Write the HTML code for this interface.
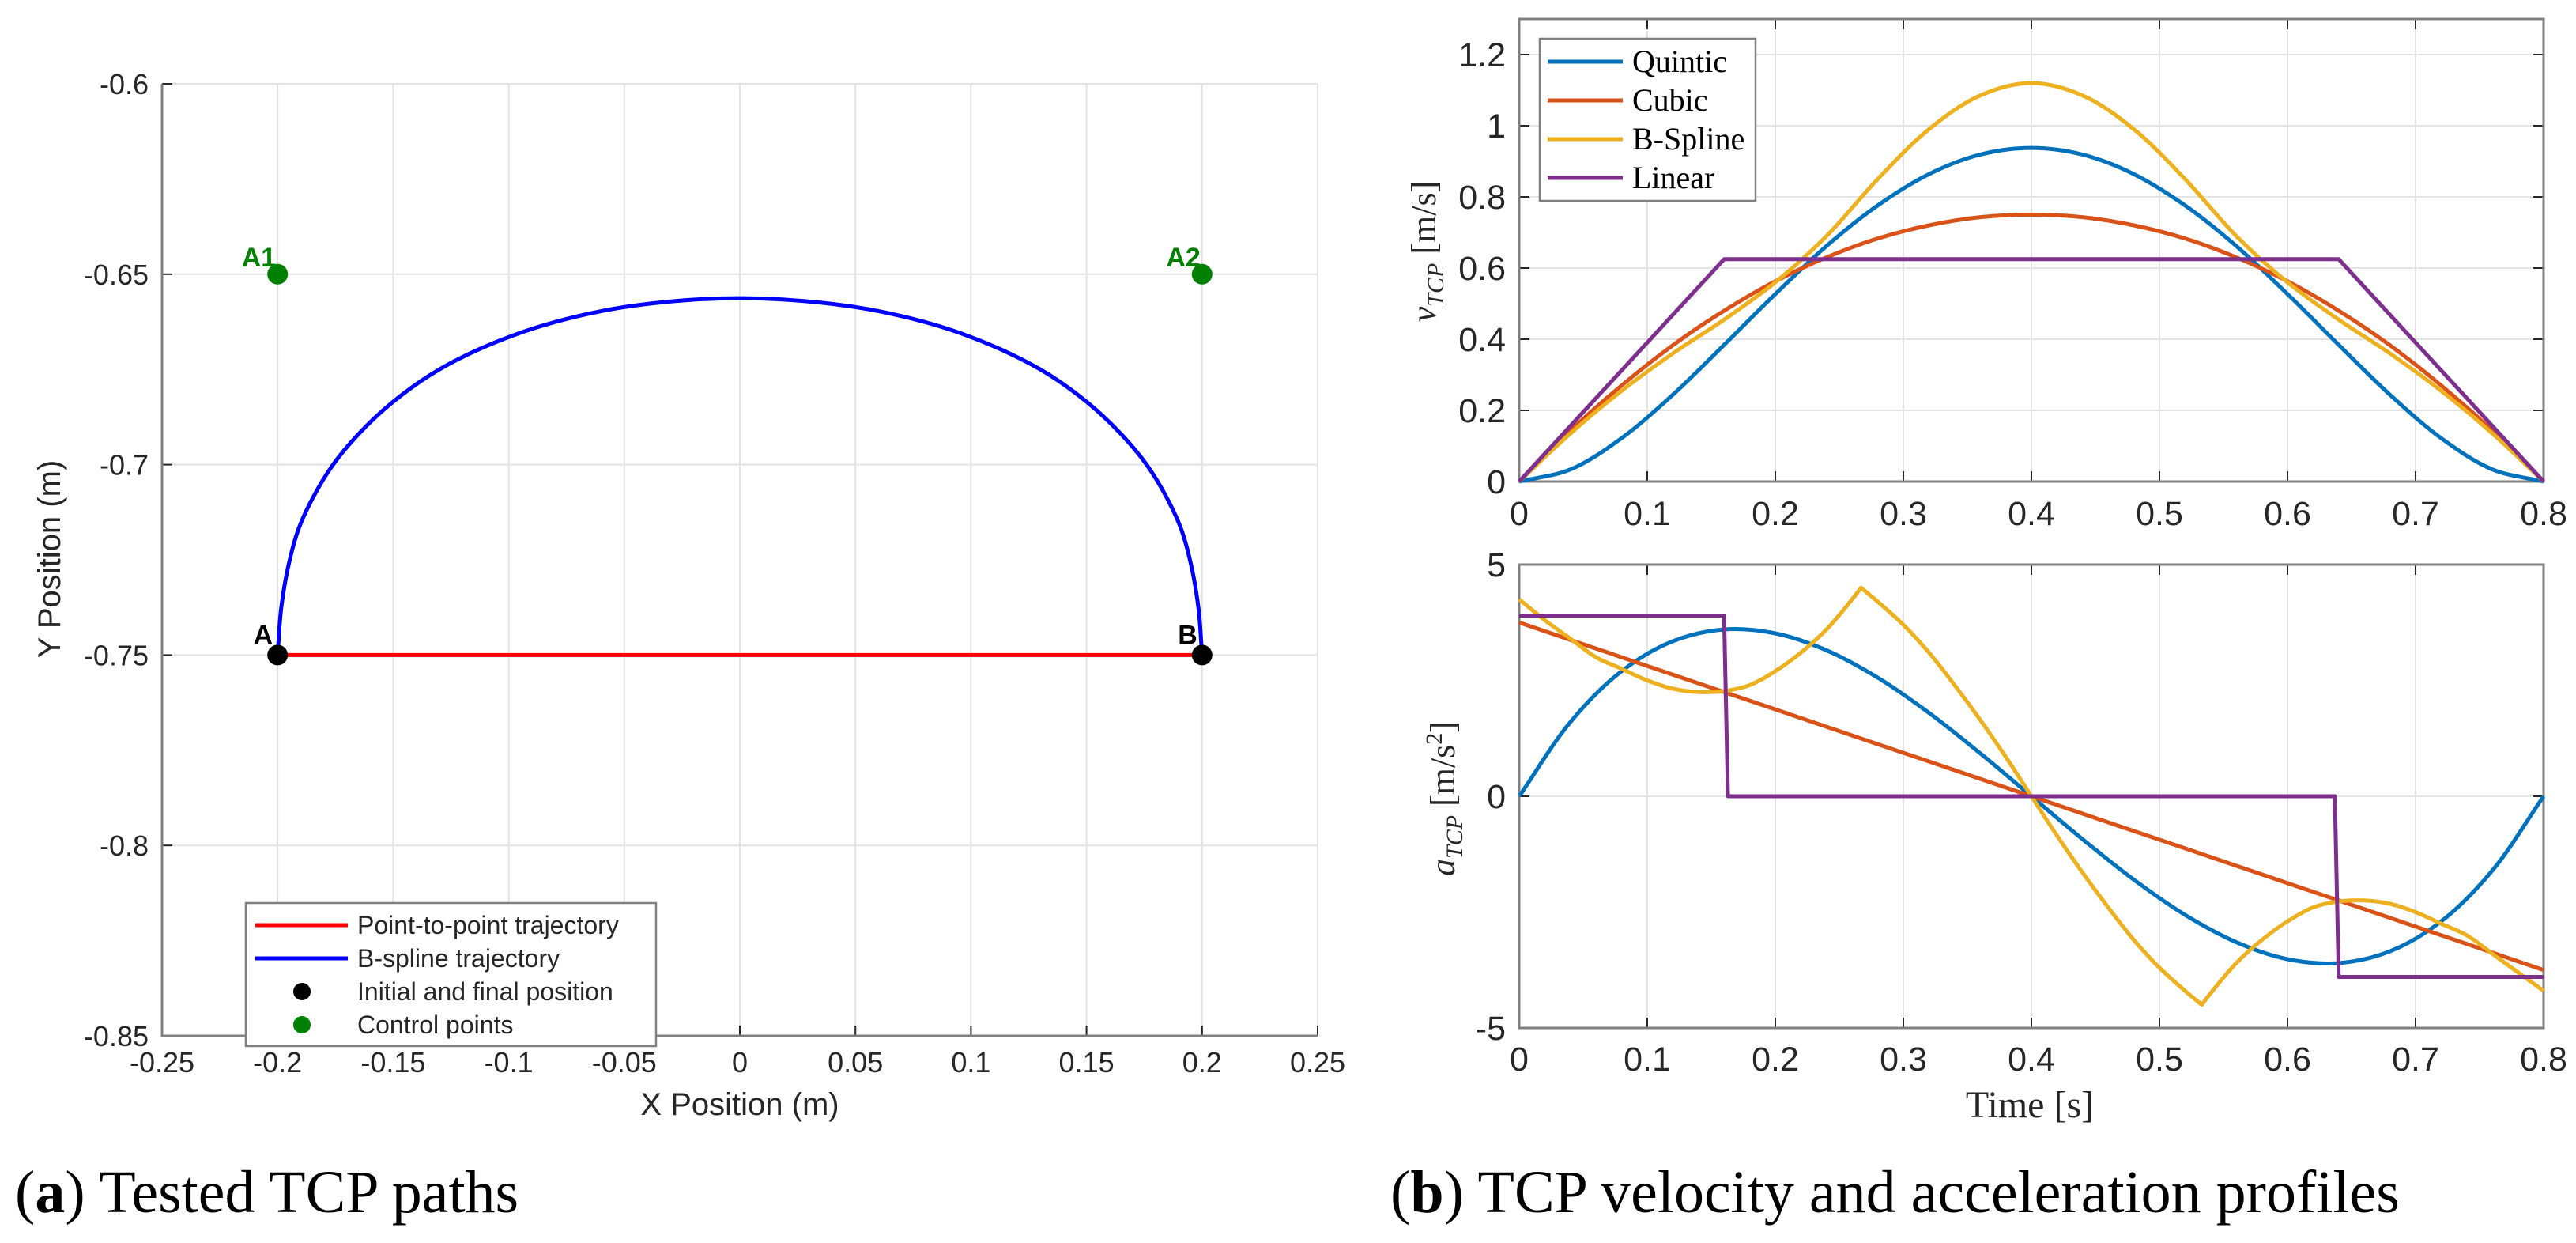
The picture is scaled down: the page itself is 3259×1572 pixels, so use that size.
<!DOCTYPE html>
<html><head><meta charset="utf-8"><style>
html,body{margin:0;padding:0;background:#fff;}
svg{display:block;}
</style></head><body>
<svg id="fig" xmlns="http://www.w3.org/2000/svg" width="3259" height="1572" viewBox="0 0 3259 1572"></svg>
<script>
// ---- Left chart data ----
const pathX = [-0.2,-0.1985,-0.1955,-0.191,-0.185,-0.176,-0.165,-0.15,-0.13,-0.1,-0.07,-0.04,0,0.04,0.07,0.1,0.13,0.15,0.165,0.176,0.185,0.191,0.1955,0.1985,0.2];
const pathY = [-0.75,-0.738,-0.727,-0.717,-0.709,-0.7,-0.692,-0.6835,-0.675,-0.6665,-0.661,-0.6578,-0.6563,-0.6578,-0.661,-0.6665,-0.675,-0.6835,-0.692,-0.7,-0.709,-0.717,-0.727,-0.738,-0.75];
const p2pX = [-0.2,0.2];
const p2pY = [-0.75,-0.75];
const endPtsX = [-0.2,0.2];
const endPtsY = [-0.75,-0.75];
const endLabels = ['A','B'];
const ctrlX = [-0.2,0.2];
const ctrlY = [-0.65,-0.65];
const ctrlLabels = ['A1','A2'];
const leftXTicks = [-0.25,-0.2,-0.15,-0.1,-0.05,0,0.05,0.1,0.15,0.2,0.25];
const leftXTickLabels = ['-0.25','-0.2','-0.15','-0.1','-0.05','0','0.05','0.1','0.15','0.2','0.25'];
const leftYTicks = [-0.6,-0.65,-0.7,-0.75,-0.8,-0.85];
const leftYTickLabels = ['-0.6','-0.65','-0.7','-0.75','-0.8','-0.85'];
// ---- Right charts data ----
const timeGrid = [0,0.04,0.08,0.12,0.16,0.2,0.24,0.28,0.32,0.36,0.4,0.44,0.48,0.52,0.56,0.6,0.64,0.68,0.72,0.76,0.8];
const velQuintic = [0,0.034,0.122,0.244,0.384,0.527,0.662,0.776,0.864,0.919,0.9375,0.919,0.864,0.776,0.662,0.527,0.384,0.244,0.122,0.034,0];
const velCubic = [0,0.143,0.27,0.383,0.48,0.563,0.63,0.683,0.72,0.743,0.75,0.743,0.72,0.683,0.63,0.563,0.48,0.383,0.27,0.143,0];
const velBspline = [0,0.135,0.255,0.36,0.455,0.56,0.69,0.85,0.99,1.085,1.12,1.085,0.99,0.85,0.69,0.56,0.455,0.36,0.255,0.135,0];
const velLinT = [0,0.16,0.64,0.8];
const velLinear = [0,0.625,0.625,0];
const accQuintic = [0,1.603,2.7,3.347,3.6,3.516,3.15,2.559,1.8,0.928,0,-0.928,-1.8,-2.559,-3.15,-3.516,-3.6,-3.347,-2.7,-1.603,0];
const accCubic = [3.75,3.375,3.0,2.625,2.25,1.875,1.5,1.125,0.75,0.375,0,-0.375,-0.75,-1.125,-1.5,-1.875,-2.25,-2.625,-3.0,-3.375,-3.75];
const accBsT = [0,0.02,0.04,0.06,0.08,0.1,0.12,0.14,0.16,0.18,0.2,0.22,0.24,0.26,0.267,0.28,0.3,0.32,0.34,0.36,0.38,0.4,0.42,0.44,0.46,0.48,0.5,0.52,0.533,0.54,0.56,0.58,0.6,0.62,0.64,0.66,0.68,0.7,0.72,0.74,0.76,0.78,0.8];
const accBspline = [4.25,3.8,3.4,3.0,2.75,2.5,2.32,2.25,2.27,2.4,2.7,3.1,3.6,4.25,4.5,4.2,3.7,3.1,2.4,1.65,0.85,0,-0.85,-1.65,-2.4,-3.1,-3.7,-4.2,-4.5,-4.25,-3.6,-3.1,-2.7,-2.4,-2.27,-2.25,-2.32,-2.5,-2.75,-3.0,-3.4,-3.8,-4.2];
const accBsCusps = [0.267,0.533];
const accLinT = [0,0.16,0.163,0.637,0.64,0.8];
const accLinear = [3.9,3.9,0,0,-3.9,-3.9];
const timeTicks = [0,0.1,0.2,0.3,0.4,0.5,0.6,0.7,0.8];
const timeTickLabels = ['0','0.1','0.2','0.3','0.4','0.5','0.6','0.7','0.8'];
const velTicks = [0,0.2,0.4,0.6,0.8,1,1.2];
const velTickLabels = ['0','0.2','0.4','0.6','0.8','1','1.2'];
const accTicks = [-5,0,5];
const accTickLabels = ['-5','0','5'];
const seriesNames = ['Quintic','Cubic','B-Spline','Linear'];
const seriesColors = ['#0072BD','#D95319','#EDB120','#7E2F8E'];

const NS='http://www.w3.org/2000/svg';
const svg=document.getElementById('fig');
function mk(tag,attrs,parent,text){const e=document.createElementNS(NS,tag);for(const k in attrs)e.setAttribute(k,attrs[k]);if(text!==undefined)e.textContent=text;(parent||svg).appendChild(e);return e;}
function lin(d0,d1,r0,r1){return v=>r0+(v-d0)/(d1-d0)*(r1-r0);}
// centripetal Catmull-Rom -> cubic Bezier
function smoothPath(px,py,noMove){
  const n=px.length;const P=i=>{if(i<0)return [2*px[0]-px[1],2*py[0]-py[1]];if(i>=n)return [2*px[n-1]-px[n-2],2*py[n-1]-py[n-2]];return [px[i],py[i]];};
  const dist=(a,b)=>Math.max(Math.sqrt(Math.hypot(a[0]-b[0],a[1]-b[1])),1e-4);
  let d=(noMove?'L':'M')+px[0].toFixed(1)+','+py[0].toFixed(1);
  for(let i=0;i<n-1;i++){
    const p0=P(i-1),p1=P(i),p2=P(i+1),p3=P(i+2);
    const d1=dist(p0,p1),d2=dist(p1,p2),d3=dist(p2,p3);
    const b1=[0,1].map(k=>(d1*d1*p2[k]-d2*d2*p0[k]+(2*d1*d1+3*d1*d2+d2*d2)*p1[k])/(3*d1*(d1+d2)));
    const b2=[0,1].map(k=>(d3*d3*p1[k]-d2*d2*p3[k]+(2*d3*d3+3*d3*d2+d2*d2)*p2[k])/(3*d3*(d3+d2)));
    d+=' C'+b1[0].toFixed(1)+','+b1[1].toFixed(1)+' '+b2[0].toFixed(1)+','+b2[1].toFixed(1)+' '+p2[0].toFixed(1)+','+p2[1].toFixed(1);
  }
  return d;
}
function polyPath(px,py){return px.map((x,i)=>(i?'L':'M')+x.toFixed(1)+','+py[i].toFixed(1)).join(' ');}
const SANS='"Liberation Sans", Arial, sans-serif', SERIF='"Liberation Serif", "Times New Roman", serif';

// ===== Left chart =====
const lx=lin(-0.25,0.25,205,1667), ly=lin(-0.6,-0.85,106,1310);
const gL=mk('g',{});


leftXTicks.forEach((t,i)=>{
  const g=mk('line',{x1:lx(t),x2:lx(t),y1:106,y2:1310,stroke:'#e3e3e3','stroke-width':2},gL);
  
  const tk=mk('line',{x1:lx(t),x2:lx(t),y1:1310,y2:1297,stroke:'#262626','stroke-width':2},gL);
  
  const lb=mk('text',{x:lx(t),y:1356,'font-family':SANS,'font-size':36,fill:'#262626','text-anchor':'middle'},gL,leftXTickLabels[i]);
  
});
leftYTicks.forEach((t,i)=>{
  const g=mk('line',{x1:205,x2:1667,y1:ly(t),y2:ly(t),stroke:'#e3e3e3','stroke-width':2},gL);
  
  const tk=mk('line',{x1:205,x2:218,y1:ly(t),y2:ly(t),stroke:'#262626','stroke-width':2},gL);
  
  const lb=mk('text',{x:188,y:ly(t)+13,'font-family':SANS,'font-size':36,fill:'#262626','text-anchor':'end'},gL,leftYTickLabels[i]);
  
});
let ax=mk('path',{d:'M205,106 L205,1310 L1667,1310',fill:'none',stroke:'#808080','stroke-width':3},gL);

let e=mk('path',{d:polyPath(p2pX.map(lx),p2pY.map(ly)),fill:'none',stroke:'#ff0000','stroke-width':5},gL);

e=mk('path',{d:smoothPath(pathX.map(lx),pathY.map(ly)),fill:'none',stroke:'#0000ff','stroke-width':5},gL);

endPtsX.forEach((x,i)=>{
  const c=mk('circle',{cx:lx(x),cy:ly(endPtsY[i]),r:13,fill:'#000'},gL);
  
  const t=mk('text',{x:lx(x)-6,y:ly(endPtsY[i])-14,'font-family':SANS,'font-size':34,'font-weight':'bold',fill:'#000','text-anchor':'end'},gL,endLabels[i]);
  
});
ctrlX.forEach((x,i)=>{
  const c=mk('circle',{cx:lx(x),cy:ly(ctrlY[i]),r:13,fill:'#008000'},gL);
  
  const t=mk('text',{x:lx(x)-2,y:ly(ctrlY[i])-10,'font-family':SANS,'font-size':34,'font-weight':'bold',fill:'#008000','text-anchor':'end'},gL,ctrlLabels[i]);
  
});
e=mk('text',{x:936,y:1410,'font-family':SANS,'font-size':40,fill:'#262626','text-anchor':'middle'},gL,'X Position (m)');

e=mk('text',{x:0,y:0,'font-family':SANS,'font-size':40,fill:'#262626','text-anchor':'middle',transform:'translate(76,707) rotate(-90)'},gL,'Y Position (m)');

// left legend
const lg=mk('g',{},gL);

mk('rect',{x:311,y:1142,width:519,height:181,fill:'#fff',stroke:'#808080','stroke-width':2.5},lg);
const lgItems=[['line','#ff0000','Point-to-point trajectory'],['line','#0000ff','B-spline trajectory'],['dot','#000','Initial and final position'],['dot','#008000','Control points']];
lgItems.forEach((it,i)=>{
  const y=1170+i*42;
  const g=mk('g',{},lg);
  
  if(it[0]==='line')mk('line',{x1:323,x2:440,y1:y,y2:y,stroke:it[1],'stroke-width':5},g);
  else mk('circle',{cx:382,cy:y,r:11,fill:it[1]},g);
  mk('text',{x:452,y:y+11,'font-family':SANS,'font-size':32,fill:'#262626'},g,it[2]);
});
e=mk('text',{x:19,y:1533,'font-family':SERIF,'font-size':76,fill:'#000'},gL);

e.innerHTML='(<tspan font-weight="bold">a</tspan>) Tested TCP paths';

// ===== Right charts =====
const tx=lin(0,0.8,1922,3218);
function panel(name,y0,y1,d0,d1,ticks,labels,xLabY){
  const g=mk('g',{});
  
  const sy=lin(d0,d1,y1,y0);
  timeTicks.forEach((t,i)=>{
    const gl=mk('line',{x1:tx(t),x2:tx(t),y1:y0,y2:y1,stroke:'#e3e3e3','stroke-width':2},g);
    
    mk('line',{x1:tx(t),x2:tx(t),y1:y1,y2:y1-13,stroke:'#262626','stroke-width':2},g);
    mk('line',{x1:tx(t),x2:tx(t),y1:y0,y2:y0+13,stroke:'#262626','stroke-width':2},g);
    const lb=mk('text',{x:tx(t),y:xLabY,'font-family':SANS,'font-size':43,fill:'#262626','text-anchor':'middle'},g,timeTickLabels[i]);
    
  });
  ticks.forEach((t,i)=>{
    const gl=mk('line',{x1:1922,x2:3218,y1:sy(t),y2:sy(t),stroke:'#e3e3e3','stroke-width':2},g);
    
    mk('line',{x1:1922,x2:1935,y1:sy(t),y2:sy(t),stroke:'#262626','stroke-width':2},g);
    mk('line',{x1:3218,x2:3205,y1:sy(t),y2:sy(t),stroke:'#262626','stroke-width':2},g);
    const lb=mk('text',{x:1905,y:sy(t)+15,'font-family':SANS,'font-size':43,fill:'#262626','text-anchor':'end'},g,labels[i]);
    
  });
  const fr=mk('rect',{x:1922,y:y0,width:1296,height:y1-y0,fill:'none',stroke:'#808080','stroke-width':3},g);
  
  return {g,sy};
}
const P1=panel('velocity-chart',24,609,0,1.3,velTicks,velTickLabels,664);
const P2=panel('acceleration-chart',714,1300,-5,5,accTicks,accTickLabels,1354);
function series(P,tArr,vArr,color,name,mode,cusps){
  let d;
  if(mode==='poly')d=polyPath(tArr.map(tx),vArr.map(P.sy));
  else{
    const cuts=[0];(cusps||[]).forEach(c=>{const k=tArr.indexOf(c);if(k>0)cuts.push(k);});cuts.push(tArr.length-1);
    d='';
    for(let s=0;s<cuts.length-1;s++){
      const a=cuts[s],b=cuts[s+1]+1;
      d+=smoothPath(tArr.slice(a,b).map(tx),vArr.slice(a,b).map(P.sy),s>0)+' ';
    }
  }
  const p=mk('path',{d:d,fill:'none',stroke:color,'stroke-width':5,'stroke-linejoin':'round'},P.g);
  
}
series(P1,timeGrid,velQuintic,seriesColors[0],'velocity-quintic-line','smooth');
series(P1,timeGrid,velCubic,seriesColors[1],'velocity-cubic-line','smooth');
series(P1,timeGrid,velBspline,seriesColors[2],'velocity-bspline-line','smooth');
series(P1,velLinT,velLinear,seriesColors[3],'velocity-linear-line','poly');
series(P2,timeGrid,accQuintic,seriesColors[0],'acceleration-quintic-line','smooth');
series(P2,timeGrid,accCubic,seriesColors[1],'acceleration-cubic-line','poly');
series(P2,accBsT,accBspline,seriesColors[2],'acceleration-bspline-line','smooth',accBsCusps);
series(P2,accLinT,accLinear,seriesColors[3],'acceleration-linear-line','poly');
// legend
const rg=mk('g',{},P1.g);

mk('rect',{x:1948,y:49,width:273,height:205,fill:'#fff',stroke:'#808080','stroke-width':2.5},rg);
seriesNames.forEach((n,i)=>{
  const y=78+i*49;
  const g=mk('g',{},rg);
  
  mk('line',{x1:1958,x2:2053,y1:y,y2:y,stroke:seriesColors[i],'stroke-width':5},g);
  mk('text',{x:2065,y:y+13,'font-family':SERIF,'font-size':40,fill:'#000'},g,n);
});
e=mk('text',{x:0,y:0,'font-family':SERIF,'font-size':44,fill:'#262626','text-anchor':'middle',transform:'translate(1816,318) rotate(-90)'},P1.g);

e.innerHTML='<tspan font-style="italic">v</tspan><tspan font-style="italic" font-size="30" dy="10">TCP</tspan><tspan dy="-10"> [m/s]</tspan>';
e=mk('text',{x:0,y:0,'font-family':SERIF,'font-size':44,fill:'#262626','text-anchor':'middle',transform:'translate(1840,1010) rotate(-90)'},P2.g);

e.innerHTML='<tspan font-style="italic">a</tspan><tspan font-style="italic" font-size="30" dy="10">TCP</tspan><tspan dy="-10"> [m/s</tspan><tspan font-size="30" dy="-16">2</tspan><tspan dy="16">]</tspan>';
e=mk('text',{x:2568,y:1413,'font-family':SERIF,'font-size':48,fill:'#262626','text-anchor':'middle'},P2.g,'Time [s]');

e=mk('text',{x:1759,y:1533,'font-family':SERIF,'font-size':76,fill:'#000'});

e.innerHTML='(<tspan font-weight="bold">b</tspan>) TCP velocity and acceleration profiles';
</script>
</body></html>
